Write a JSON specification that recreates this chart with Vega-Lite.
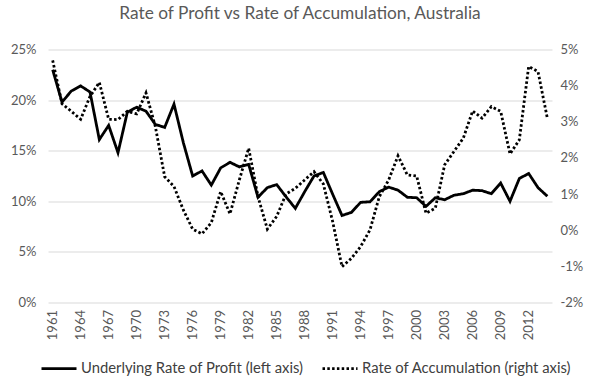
{
  "$schema": "https://vega.github.io/schema/vega-lite/v6.json",
  "autosize": "none",
  "width": 504,
  "height": 253,
  "padding": {"left": 48, "top": 49.5, "right": 45, "bottom": 83.5},
  "background": "white",
  "title": {
    "text": "Rate of Profit vs Rate of Accumulation, Australia",
    "font": "Lato",
    "fontSize": 17.3,
    "fontWeight": "normal",
    "color": "#595959",
    "anchor": "middle",
    "offset": 21
  },
  "config": {
    "view": {"stroke": null},
    "axis": {"labelFont": "Lato", "labelFontSize": 13, "labelColor": "#595959", "domain": false, "ticks": false, "title": null}
  },
  "data": {
    "values": [
      {"year": 1961, "profit": 23.0, "accum": 4.70},
      {"year": 1962, "profit": 19.8, "accum": 3.50},
      {"year": 1963, "profit": 20.9, "accum": 3.29},
      {"year": 1964, "profit": 21.4, "accum": 3.07},
      {"year": 1965, "profit": 20.8, "accum": 3.70},
      {"year": 1966, "profit": 16.1, "accum": 4.09},
      {"year": 1967, "profit": 17.5, "accum": 3.07},
      {"year": 1968, "profit": 14.8, "accum": 3.06},
      {"year": 1969, "profit": 18.8, "accum": 3.29},
      {"year": 1970, "profit": 19.3, "accum": 3.22},
      {"year": 1971, "profit": 18.9, "accum": 3.80},
      {"year": 1972, "profit": 17.6, "accum": 2.87},
      {"year": 1973, "profit": 17.3, "accum": 1.48},
      {"year": 1974, "profit": 19.6, "accum": 1.21},
      {"year": 1975, "profit": 15.8, "accum": 0.56},
      {"year": 1976, "profit": 12.5, "accum": 0.03},
      {"year": 1977, "profit": 13.0, "accum": -0.10},
      {"year": 1978, "profit": 11.6, "accum": 0.21},
      {"year": 1979, "profit": 13.3, "accum": 1.07},
      {"year": 1980, "profit": 13.85, "accum": 0.45},
      {"year": 1981, "profit": 13.4, "accum": 1.39},
      {"year": 1982, "profit": 13.65, "accum": 2.27},
      {"year": 1983, "profit": 10.4, "accum": 0.93},
      {"year": 1984, "profit": 11.35, "accum": 0.03},
      {"year": 1985, "profit": 11.65, "accum": 0.38},
      {"year": 1986, "profit": 10.45, "accum": 1.0},
      {"year": 1987, "profit": 9.3, "accum": 1.16},
      {"year": 1988, "profit": 10.95, "accum": 1.39},
      {"year": 1989, "profit": 12.5, "accum": 1.62},
      {"year": 1990, "profit": 12.85, "accum": 1.28},
      {"year": 1991, "profit": 10.7, "accum": 0.24},
      {"year": 1992, "profit": 8.6, "accum": -1.01},
      {"year": 1993, "profit": 8.9, "accum": -0.78},
      {"year": 1994, "profit": 9.9, "accum": -0.45},
      {"year": 1995, "profit": 9.95, "accum": 0.01},
      {"year": 1996, "profit": 10.95, "accum": 0.93},
      {"year": 1997, "profit": 11.4, "accum": 1.39},
      {"year": 1998, "profit": 11.1, "accum": 2.06},
      {"year": 1999, "profit": 10.4, "accum": 1.53},
      {"year": 2000, "profit": 10.35, "accum": 1.50},
      {"year": 2001, "profit": 9.5, "accum": 0.47},
      {"year": 2002, "profit": 10.35, "accum": 0.61},
      {"year": 2003, "profit": 10.15, "accum": 1.81},
      {"year": 2004, "profit": 10.6, "accum": 2.18},
      {"year": 2005, "profit": 10.75, "accum": 2.55},
      {"year": 2006, "profit": 11.1, "accum": 3.30},
      {"year": 2007, "profit": 11.05, "accum": 3.10},
      {"year": 2008, "profit": 10.75, "accum": 3.42},
      {"year": 2009, "profit": 11.8, "accum": 3.29},
      {"year": 2010, "profit": 10.0, "accum": 2.11},
      {"year": 2011, "profit": 12.25, "accum": 2.50},
      {"year": 2012, "profit": 12.75, "accum": 4.53},
      {"year": 2013, "profit": 11.35, "accum": 4.39},
      {"year": 2014, "profit": 10.5, "accum": 3.10}
    ]
  },
  "encoding": {
    "x": {
      "field": "year",
      "type": "ordinal",
      "scale": {"type": "point", "padding": 0.5},
      "axis": {
        "values": [1961, 1964, 1967, 1970, 1973, 1976, 1979, 1982, 1985, 1988, 1991, 1994, 1997, 2000, 2003, 2006, 2009, 2012],
        "labelAngle": -90,
        "labelPadding": 7,
        "grid": false
      }
    }
  },
  "layer": [
    {
      "mark": {"type": "line", "color": "black", "strokeWidth": 2.8},
      "encoding": {
        "y": {
          "field": "profit",
          "type": "quantitative",
          "scale": {"domain": [0, 25], "nice": false, "zero": false},
          "axis": {
            "values": [0, 5, 10, 15, 20, 25],
            "labelExpr": "datum.value + '%'",
            "grid": true,
            "gridColor": "#d9d9d9",
            "gridWidth": 1,
            "labelPadding": 12
          }
        },
        "strokeDash": {
          "datum": "Underlying Rate of Profit (left axis)",
          "type": "nominal",
          "scale": {
            "domain": ["Underlying Rate of Profit (left axis)", "Rate of Accumulation (right axis)"],
            "range": [[1, 0], [2.5, 2.3]]
          },
          "legend": {
            "orient": "none",
            "legendX": -8,
            "legendY": 300,
            "direction": "horizontal",
            "title": null,
            "symbolType": "stroke",
            "symbolSize": 1225,
            "symbolStrokeWidth": 2.8,
            "symbolStrokeColor": "black",
            "labelFont": "Lato",
            "labelFontSize": 14.8,
            "labelColor": "#404040",
            "labelLimit": 0,
            "labelOffset": 3,
            "columnPadding": 12
          }
        }
      }
    },
    {
      "mark": {"type": "line", "color": "black", "strokeWidth": 2.8},
      "encoding": {
        "y": {
          "field": "accum",
          "type": "quantitative",
          "scale": {"domain": [-2, 5], "nice": false, "zero": false},
          "axis": {
            "orient": "right",
            "values": [-2, -1, 0, 1, 2, 3, 4, 5],
            "labelExpr": "datum.value + '%'",
            "grid": false,
            "labelPadding": 8
          }
        },
        "strokeDash": {
          "datum": "Rate of Accumulation (right axis)",
          "type": "nominal"
        }
      }
    }
  ],
  "resolve": {"scale": {"y": "independent"}}
}
